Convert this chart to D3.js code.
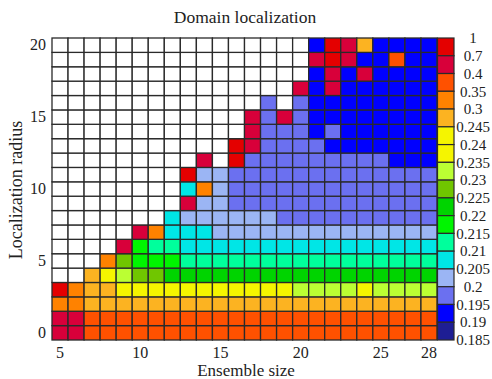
<!DOCTYPE html>
<html>
<head>
<meta charset="utf-8">
<script src="https://cdn.jsdelivr.net/npm/d3@7"></script>
<style>
  html, body { margin: 0; padding: 0; background: #fff; }
  text { font-family: "Liberation Serif", "Times New Roman", serif; fill: #222; }
</style>
</head>
<body>
<svg id="chart" width="492" height="379"></svg>
<script>
// ---------- data ----------
const ensembleSizes = d3.range(5, 29);          // 5 .. 28
const radii = d3.range(0, 21);                  // 0 .. 20
const xTickValues = [5, 10, 15, 20, 25, 28];
const yTickValues = [0, 5, 10, 15, 20];
const W = null; // diverged / not computed (white)

// error values per localization radius (columns: ensemble size 5..28)
const r0  = [0.5,0.5,0.37,0.37,0.37,0.37,0.37,0.37,0.37,0.37,0.37,0.37,0.37,0.37,0.37,0.37,0.37,0.37,0.37,0.37,0.37,0.37,0.37,0.37];
const r1  = [0.5,0.5,0.37,0.37,0.37,0.37,0.37,0.37,0.37,0.37,0.37,0.37,0.37,0.37,0.37,0.37,0.37,0.37,0.37,0.37,0.37,0.37,0.37,0.37];
const r2  = [0.32,0.32,0.27,0.27,0.27,0.27,0.27,0.27,0.27,0.27,0.27,0.27,0.27,0.27,0.27,0.27,0.27,0.27,0.27,0.27,0.27,0.27,0.27,0.27];
const r3  = [0.8,0.32,0.27,0.27,0.238,0.238,0.238,0.238,0.238,0.238,0.238,0.238,0.238,0.238,0.238,0.232,0.232,0.232,0.232,0.238,0.232,0.232,0.232,0.232];
const r4  = [W,W,0.27,0.238,0.232,0.227,0.227,0.222,0.222,0.222,0.222,0.222,0.222,0.222,0.222,0.222,0.222,0.222,0.222,0.222,0.222,0.222,0.222,0.222];
const r5  = [W,W,W,0.32,0.227,0.217,0.217,0.217,0.212,0.212,0.212,0.212,0.212,0.212,0.212,0.212,0.212,0.212,0.212,0.212,0.212,0.212,0.212,0.212];
const r6  = [W,W,W,W,0.5,0.217,0.212,0.212,0.207,0.207,0.207,0.207,0.207,0.207,0.207,0.207,0.207,0.207,0.207,0.207,0.207,0.207,0.207,0.207];
const r7  = [W,W,W,W,W,0.5,0.32,0.207,0.207,0.207,0.202,0.202,0.202,0.202,0.202,0.202,0.202,0.202,0.202,0.202,0.202,0.202,0.202,0.202];
const r8  = [W,W,W,W,W,W,W,0.207,0.202,0.202,0.202,0.202,0.202,0.202,0.197,0.197,0.197,0.197,0.197,0.197,0.197,0.197,0.197,0.197];
const r9  = [W,W,W,W,W,W,W,W,0.5,0.202,0.202,0.197,0.197,0.197,0.197,0.197,0.197,0.197,0.197,0.197,0.197,0.197,0.197,0.197];
const r10 = [W,W,W,W,W,W,W,W,0.207,0.32,0.202,0.197,0.197,0.197,0.197,0.197,0.197,0.197,0.197,0.197,0.197,0.197,0.197,0.197];
const r11 = [W,W,W,W,W,W,W,W,0.8,0.202,0.202,0.197,0.197,0.197,0.197,0.197,0.197,0.197,0.197,0.197,0.197,0.197,0.197,0.197];
const r12 = [W,W,W,W,W,W,W,W,W,0.5,W,0.8,0.197,0.197,0.197,0.197,0.197,0.197,0.197,0.197,0.197,0.192,0.192,0.192];
const r13 = [W,W,W,W,W,W,W,W,W,W,W,0.8,0.5,0.197,0.197,0.197,0.197,0.192,0.192,0.192,0.192,0.192,0.192,0.192];
const r14 = [W,W,W,W,W,W,W,W,W,W,W,W,0.5,0.197,0.197,0.197,0.192,0.197,0.192,0.192,0.192,0.192,0.192,0.192];
const r15 = [W,W,W,W,W,W,W,W,W,W,W,W,0.5,0.197,0.5,0.197,0.192,0.192,0.192,0.192,0.192,0.192,0.192,0.192];
const r16 = [W,W,W,W,W,W,W,W,W,W,W,W,W,0.197,W,0.197,0.192,0.192,0.192,0.192,0.192,0.192,0.192,0.192];
const r17 = [W,W,W,W,W,W,W,W,W,W,W,W,W,W,W,0.5,0.192,0.5,0.192,0.192,0.192,0.192,0.192,0.192];
const r18 = [W,W,W,W,W,W,W,W,W,W,W,W,W,W,W,W,0.192,0.5,0.192,0.5,0.192,0.192,0.192,0.192];
const r19 = [W,W,W,W,W,W,W,W,W,W,W,W,W,W,W,W,0.5,0.8,0.5,0.192,0.192,0.37,0.192,0.192];
const r20 = [W,W,W,W,W,W,W,W,W,W,W,W,W,W,W,W,0.192,0.8,0.5,0.27,0.192,0.192,0.192,0.192];

// colour bar
const levelLabels = ["1","0.7","0.4","0.35","0.3","0.245","0.24","0.235","0.23","0.225","0.22","0.215","0.21","0.205","0.2","0.195","0.19","0.185"];
const levelColors = ["#e40000","#d8003a","#ff5100","#ff8200","#fcb321","#f5f500","#f5f500","#bbff33","#70c600","#00d400","#00f500","#00ff9c","#00e6e6","#9bb5f4","#6b70f0","#0000ff","#1e1e94"];

// ---------- build ----------
const rowsByRadius = [r0,r1,r2,r3,r4,r5,r6,r7,r8,r9,r10,r11,r12,r13,r14,r15,r16,r17,r18,r19,r20];
const cells = [];
radii.forEach((r, i) => ensembleSizes.forEach((e, j) => cells.push({ r, e, v: rowsByRadius[i][j] })));

const thresholds = levelLabels.map(Number).slice(1, -1).reverse(); // ascending inner bounds
const color = d3.scaleThreshold().domain(thresholds).range(levelColors.slice().reverse());

const svg = d3.select("#chart");
const pLeft = 52, pRight = 437, pTop = 38, pBottom = 340;

const x = d3.scaleBand().domain(ensembleSizes).range([pLeft, pRight]).padding(0);
const y = d3.scaleBand().domain(radii).range([pBottom, pTop]).padding(0);

svg.append("g").selectAll("rect").data(cells).join("rect")
  .attr("x", d => x(d.e))
  .attr("y", d => y(d.r))
  .attr("width", x.bandwidth())
  .attr("height", y.bandwidth())
  .attr("fill", d => d.v == null ? "#ffffff" : color(d.v))
  .attr("stroke", "#2a2a2a")
  .attr("stroke-width", 1.3);

// axes
const xAxis = svg.append("g").attr("transform", `translate(0,${pBottom + 4})`)
  .call(d3.axisBottom(x).tickValues(xTickValues).tickSize(0).tickPadding(3));
xAxis.select(".domain").remove();
xAxis.selectAll("text").style("font-size", "16px").style("font-family", "Liberation Serif");

const yAxis = svg.append("g").attr("transform", `translate(${pLeft - 3},0)`)
  .call(d3.axisLeft(y).tickValues(yTickValues).tickSize(0).tickPadding(3));
yAxis.select(".domain").remove();
yAxis.selectAll("text").style("font-size", "16px").style("font-family", "Liberation Serif");

// colour bar
const cbX = 437.5, cbW = 16.5;
const cb = d3.scaleBand().domain(d3.range(levelColors.length)).range([pTop, pBottom]);
svg.append("g").selectAll("rect").data(levelColors).join("rect")
  .attr("x", cbX).attr("y", (d, i) => cb(i))
  .attr("width", cbW).attr("height", cb.bandwidth())
  .attr("fill", d => d)
  .attr("stroke", "#2a2a2a").attr("stroke-width", 1.2);

const cbLab = d3.scalePoint().domain(levelLabels).range([pTop, pBottom]);
svg.append("g").selectAll("text").data(levelLabels).join("text")
  .attr("x", 473).attr("y", d => cbLab(d))
  .attr("text-anchor", "middle").attr("dy", "0.35em")
  .style("font-size", "15px")
  .text(d => d);

// titles
svg.append("text").attr("x", 245).attr("y", 23).attr("text-anchor", "middle")
  .style("font-size", "17.5px").text("Domain localization");
svg.append("text").attr("x", 246).attr("y", 376).attr("text-anchor", "middle")
  .style("font-size", "17px").text("Ensemble size");
svg.append("text").attr("transform", "translate(22,190) rotate(-90)").attr("text-anchor", "middle")
  .style("font-size", "18px").text("Localization radius");
</script>
</body>
</html>
